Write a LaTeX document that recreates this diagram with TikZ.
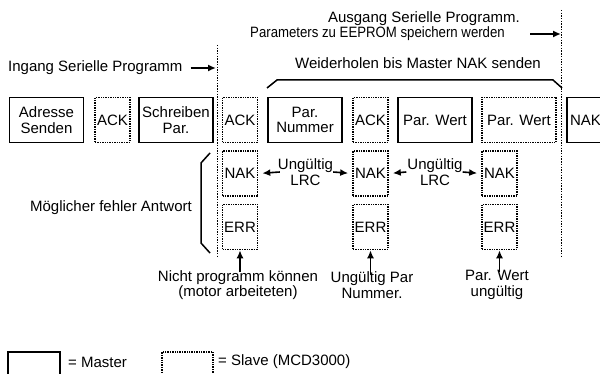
\documentclass[tikz,border=0pt]{standalone}
\usepackage{fontspec}
\setmainfont{Liberation Sans}
\usetikzlibrary{arrows.meta,positioning}
\tikzset{
  txt/.style={font=\fontsize{15}{15.5}\selectfont, align=center, inner sep=0pt},
  master/.style={txt, draw, line width=1.8pt},
  slave/.style={txt, draw, line width=1.6pt, dash pattern=on 1.4pt off 1pt},
  wide/.style={minimum width=74pt, minimum height=45pt},
  narrow/.style={minimum width=35pt, minimum height=45pt},
  marker/.style={line width=1pt, dash pattern=on 1.4pt off 1.3pt},
  bracket/.style={line width=1.5pt},
  arrow/.style={-{Latex[length=8pt,width=7pt]}, line width=1.6pt},
}

\begin{document}
\begin{tikzpicture}[x=1pt, y=-1pt]
  \useasboundingbox (0,0) rectangle (600,374);
  \clip (0,0) rectangle (600,374);

  % top row
  \node[master, wide]   (adr)    at (46.5,120) {Adresse\\Senden};
  \node[slave, narrow]  (ack1)   at (112.5,120) {ACK};
  \node[master, wide]   (schr)   at (176,120) {Schreiben\\Par.};
  \node[slave, narrow]  (ack2)   at (240,120) {ACK};
  \node[master, wide]   (nummer) at (305,120) {Par.\\Nummer};
  \node[slave, narrow]  (ack3)   at (370.5,120) {ACK};
  \node[master, wide]   (wertm)  at (435,120) {Par. Wert};
  \node[slave, wide]    (werts)  at (519,120) {Par. Wert};
  \node[master, narrow, minimum width=44pt, text width=38pt, align=left,
        inner xsep=1.5pt] (nakm) at (589,120) {NAK};

  % error answers
  \node[slave, narrow] (nak1) at (240,173.5) {NAK};
  \node[slave, narrow] (nak2) at (370.5,173.5) {NAK};
  \node[slave, narrow] (nak3) at (499.5,173.5) {NAK};
  \node[slave, narrow] (err1) at (240,227) {ERR};
  \node[slave, narrow] (err2) at (370.5,227) {ERR};
  \node[slave, narrow] (err3) at (499.5,227) {ERR};

  % start / end markers
  \draw[marker] (217.5,45) -- (217.5,258);
  \draw[marker] (561.5,10) -- (561.5,258);
  \coordinate (inend) at (216,68);
  \coordinate (ausend) at (561,0);

  \node[txt, anchor=west] (ingang) at (8,68) {Ingang Serielle Programm};
  \draw[arrow] ([xshift=8pt]ingang.east) -- (inend);

  \node[txt, anchor=east] (ausA) at (520,19) {Ausgang Serielle Programm.};
  \node[txt, anchor=east] (ausB) at (505,34)
    {\scalebox{0.88}[1]{Parameters zu EEPROM speichern werden}};
  \draw[arrow] ([xshift=25pt]ausB.east) -- (ausB.east -| ausend);

  % repeat bracket
  \node[txt] (repeat) at (418,63) {Weiderholen bis Master NAK senden};
  \draw[bracket] (267,88) -- (277,80) -- (553,80) -- (562,88);

  % error bracket
  \node[txt] (fehler) at (111,208) {Möglicher fehler Antwort};
  \draw[bracket] (210,153) -- (201,163) -- (201,243) -- (210,253);

  % invalid LRC
  \node[txt] (lrcA) at (305.5,172) {Ungültig\\LRC};
  \node[txt] (lrcB) at (435,172) {Ungültig\\LRC};
  \draw[arrow, shorten >=4pt] ([xshift=2pt]lrcA.west) -- (nak1.east);
  \draw[arrow, shorten >=4pt] (lrcA.east) -- (nak2.west);
  \draw[arrow, shorten >=4pt] ([xshift=-1pt]lrcB.west) -- (nak2.east);
  \draw[arrow, shorten >=4pt] (lrcB.east) -- (nak3.west);

  % reasons
  \node[txt] (nicht) at (238,285) {Nicht programm können\\(motor arbeiteten)};
  \node[txt] (parnr) at (372,285) {Ungültig Par\\Nummer.};
  \node[txt] (wertu) at (497,285) {Par. Wert\\ungültig};
  \draw[arrow] ([yshift=-2pt]err1.south |- nicht.north) -- (err1.south);
  \draw[arrow] ([yshift=-2pt]err2.south |- parnr.north) -- (err2.south);
  \draw[arrow] ([yshift=-2pt]err3.south |- wertu.north) -- (err3.south);

  % legend
  \node[master, minimum width=52pt, minimum height=32pt] (legm) at (34,368) {};
  \node[txt, anchor=west] (legmt) at (68,362) {= Master};
  \node[slave, minimum width=51pt, minimum height=32pt] (legs) at (187.5,368) {};
  \node[txt, anchor=west] (legst) at (218,362) {= Slave (MCD3000)};
\end{tikzpicture}
\end{document}
